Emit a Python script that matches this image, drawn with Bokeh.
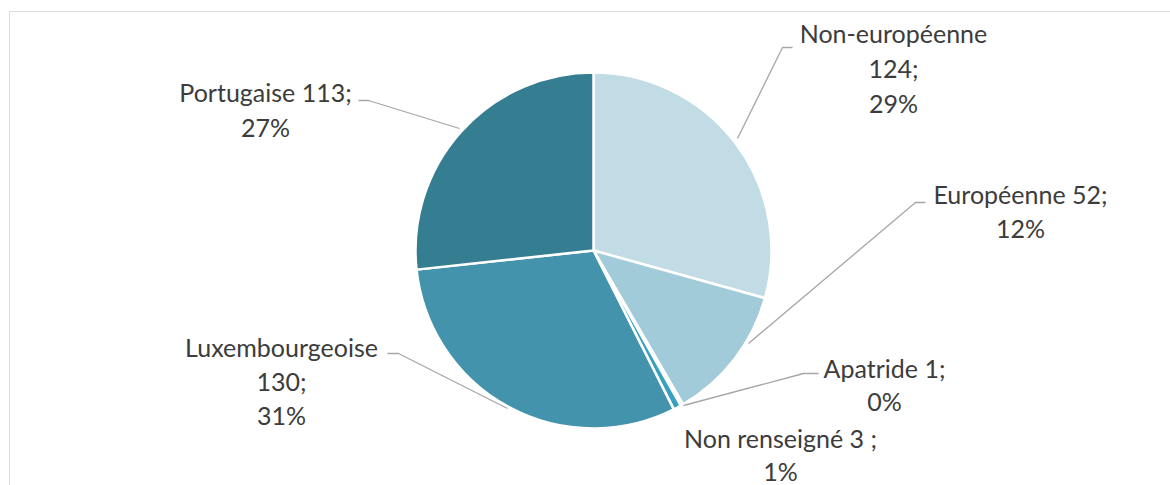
import math
from bokeh.plotting import figure
from bokeh.models import Range1d
from bokeh.core.properties import value
from bokeh.embed import file_html
from bokeh.resources import INLINE

# ---- data ----
categories = ["Non-européenne", "Européenne", "Apatride", "Non renseigné", "Luxembourgeoise", "Portugaise"]
counts = [124, 52, 1, 3, 130, 113]
colors = ["#C1DCE4", "#A2CBDA", "#5FB3CB", "#37A1BF", "#4293AB", "#357D91"]

# ---- layout (page pixel coordinates, y down) ----
W, H = 1170, 485
OX, OY = 0, 485  # convert image px -> data: x-OX, OY-y
cx_img, cy_img, R = 593, 250, 178

# label lines: center x, first-line y, line spacing, line templates
label_layout = {
    "Non-européenne": (893, 32, 35, ["{name}", "{v};", "{p}%"]),
    "Européenne": (1020, 193, 34, ["{name} {v};", "{p}%"]),
    "Apatride": (884, 367, 33, ["{name} {v};", "{p}%"]),
    "Non renseigné": (780, 437, 33, ["{name} {v} ;", "{p}%"]),
    "Luxembourgeoise": (281, 346, 34, ["{name}", "{v};", "{p}%"]),
    "Portugaise": (265, 91, 35, ["{name} {v};", "{p}%"]),
}
leaders = {
    "Non-européenne": [(792, 47), (782, 47), (737, 138)],
    "Européenne": [(925, 202), (915, 202), (748, 343)],
    "Apatride": [(818, 373), (803, 373), (683, 405)],
    "Luxembourgeoise": [(387, 353), (398, 353), (507, 408)],
    "Portugaise": [(358, 100), (368, 100), (459, 128)],
}

p = figure(width=W, height=H, output_backend="svg", toolbar_location=None,
           x_range=Range1d(0, W), y_range=Range1d(0, H), min_border=0)
p.axis.visible = False
p.grid.visible = False
p.outline_line_color = None
p.background_fill_color = "white"

# frame (top and left edges)
p.line([9, W + 10], [OY - 11, OY - 11], line_color="#D9D9D9", line_width=1)
p.line([9, 9], [OY - 11, -10], line_color="#D9D9D9", line_width=1)

total = sum(counts)
cum = 0
starts, ends = [], []
for c in counts:
    starts.append(math.pi / 2 - 2 * math.pi * cum / total)
    cum += c
    ends.append(math.pi / 2 - 2 * math.pi * cum / total)

p.wedge(x=cx_img - OX, y=OY - cy_img, radius=R, start_angle=starts, end_angle=ends,
        direction="clock", fill_color=colors, line_color="white", line_width=2.5)

for name, pts in leaders.items():
    p.line([x - OX for x, y in pts], [OY - y for x, y in pts], line_color="#A6A6A6", line_width=1.3)

for name, c in zip(categories, counts):
    pct = round(100 * c / total)
    lx, ly, sp, lines = label_layout[name]
    for i, tmpl in enumerate(lines):
        t = tmpl.format(name=name, v=c, p=pct)
        p.text(x=[lx - OX], y=[OY - (ly + i * sp)], text=[t], text_align="center",
               text_baseline="middle", text_font=value("Lato"), text_font_size="25px",
               text_color="#3C3C3C")

open("out.html", "w").write(file_html(p, INLINE))
